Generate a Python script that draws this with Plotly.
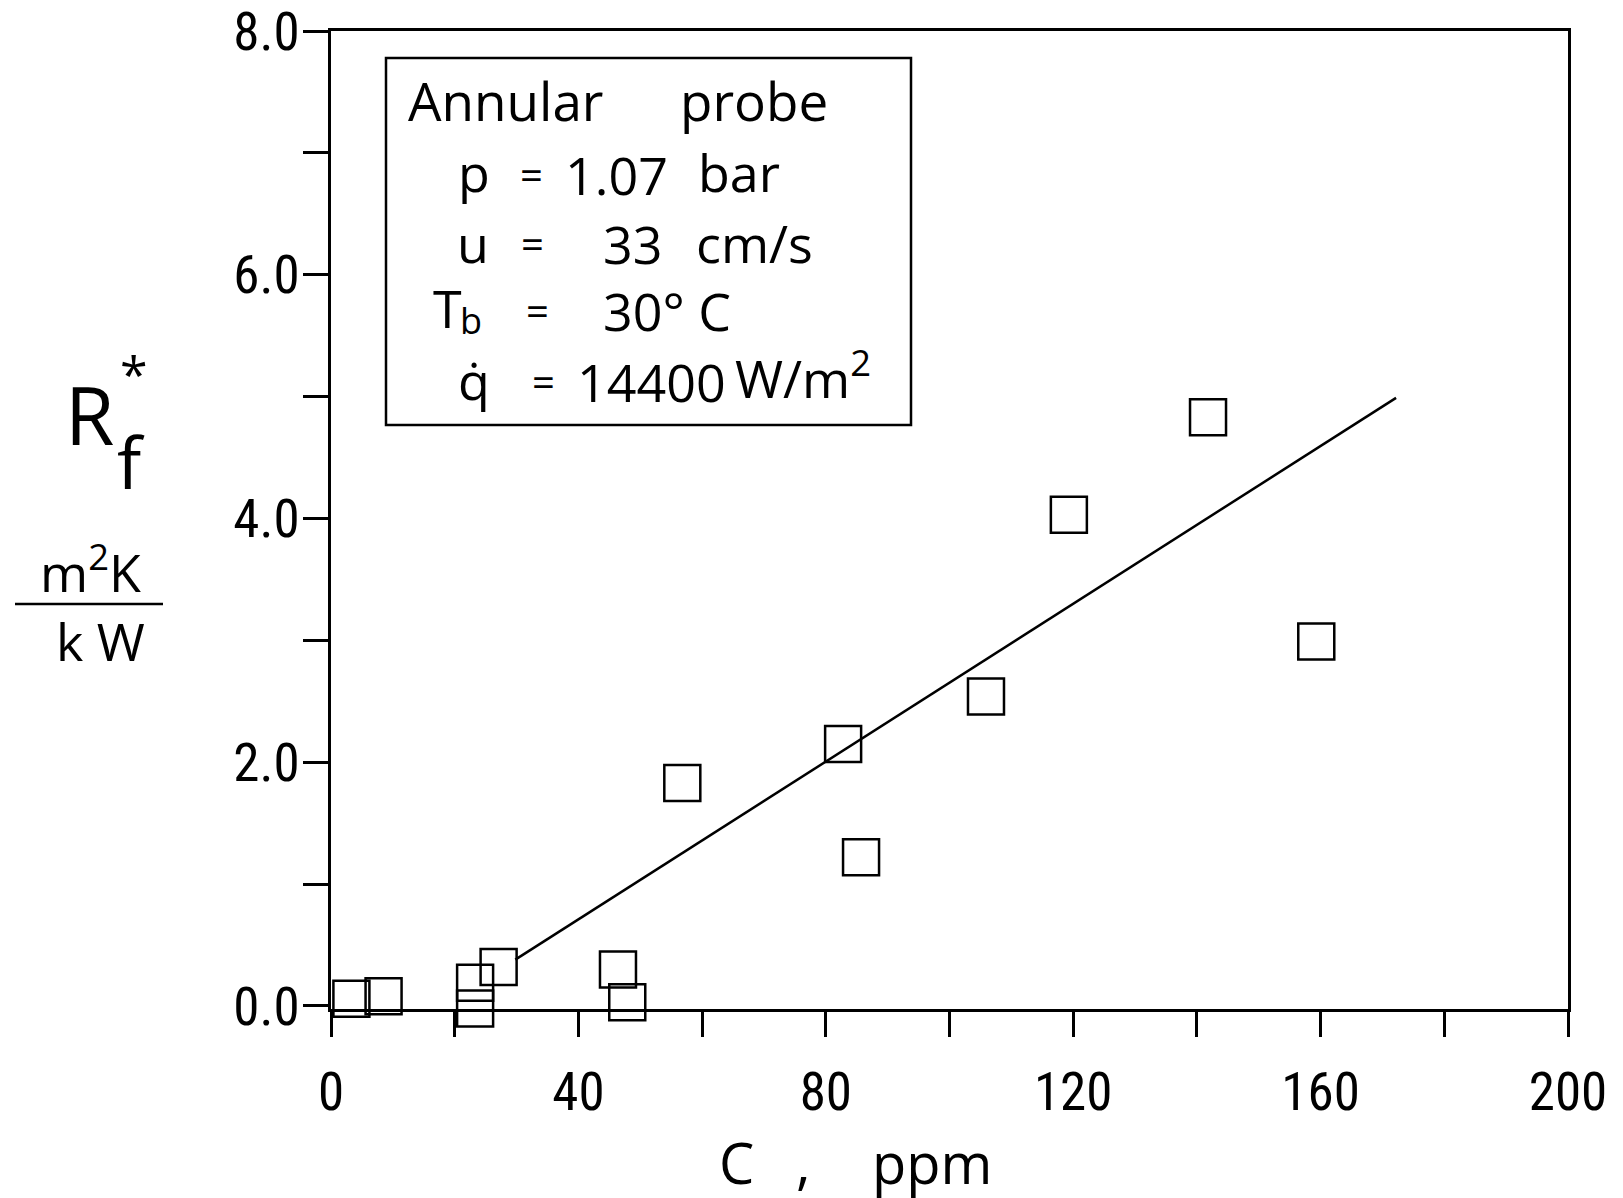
import plotly.graph_objects as go

# ---- data ----
conc_ppm = [3.3, 8.5, 23.3, 23.3, 27.1, 46.4, 47.9, 56.8, 82.8, 85.7, 105.9, 119.3, 141.8, 159.3]
rf_star = [0.06, 0.08, 0.19, -0.02, 0.32, 0.30, 0.03, 1.83, 2.15, 1.22, 2.54, 4.03, 4.83, 2.99]
fit_x = [29.8, 172.2]
fit_y = [0.38, 4.99]

x_major_vals = [0, 40, 80, 120, 160, 200]
x_major_text = ["0", "40", "80", "120", "160", "200"]
x_minor_vals = [20, 60, 100, 140, 180]
y_major_vals = [0, 2, 4, 6, 8]
y_major_text = ["0.0", "2.0", "4.0", "6.0", "8.0"]
y_minor_vals = [1, 3, 5, 7]

# ---- layout geometry (screen pixels; page body has an 8px margin) ----
SCREEN_W, SCREEN_H = 1623, 1198
OFF = 8
W, H = SCREEN_W - OFF, SCREEN_H - OFF
L, R, T, B = 331, 1568, 31, 1009


def px(x):
    return (x - L) / (R - L)


def py(y):
    return (B - y) / (B - T)


TICK_FONT = "Liberation Sans Narrow, Roboto Condensed, Arial Narrow, Liberation Sans, sans-serif"
TEXT_FONT = "Open Sans, Liberation Sans, sans-serif"

fig = go.Figure()

fig.add_trace(go.Scatter(
    x=fit_x, y=fit_y, mode="lines",
    line=dict(color="black", width=2.5),
    hoverinfo="skip", showlegend=False,
))
fig.add_trace(go.Scatter(
    x=conc_ppm, y=rf_star, mode="markers",
    marker=dict(symbol="square-open", size=36, color="black",
                line=dict(color="black", width=2.5)),
    cliponaxis=False, showlegend=False,
))

tick_style = dict(ticks="outside", ticklen=25, tickwidth=2.5, tickcolor="black")

axis_common = dict(
    showgrid=False, zeroline=False, showline=True, linecolor="black", linewidth=2.5,
    mirror=True, automargin=False, ticklabeloverflow="allow",
    tickfont=dict(family=TICK_FONT, size=53, color="black"),
    **tick_style,
)

fig.update_xaxes(range=[0, 200], tickmode="array", tickvals=x_major_vals,
                 ticktext=x_major_text, ticklabelstandoff=10,
                 minor=dict(tickmode="array", tickvals=x_minor_vals, showgrid=False, **tick_style),
                 **axis_common)
fig.update_yaxes(range=[-0.025, 8], tickmode="array", tickvals=y_major_vals,
                 ticktext=y_major_text, ticklabelstandoff=-7,
                 minor=dict(tickmode="array", tickvals=y_minor_vals, showgrid=False, **tick_style),
                 **axis_common)

annotations = []


def txt(s, x, y, size, xanchor="center", yanchor="middle", family=TEXT_FONT):
    annotations.append(dict(
        text=s, x=px(x), y=py(y), xref="paper", yref="paper",
        xanchor=xanchor, yanchor=yanchor, showarrow=False,
        font=dict(family=family, size=size, color="black"),
    ))


# x-axis title
txt("C", 736, 1162, 56)
txt(",", 803, 1162, 56)
txt("ppm", 932, 1162, 56)

# y-axis title pieces
txt("R", 89, 413, 80)
txt("*", 134, 374, 50)
txt("f", 131, 461, 72)
txt("m<sup>2</sup>K", 90, 569, 52)
txt("k W", 101, 640, 52)

# info box text
BS = 52
txt("Annular", 406, 101, 53, xanchor="left")
txt("probe", 678, 101, 53, xanchor="left")
txt("p", 456, 172, BS, xanchor="left")
txt("=", 531, 174, 40)
txt("1.07", 563, 174, BS, xanchor="left")
txt("bar", 696, 172, BS, xanchor="left")
txt("u", 455, 242, BS, xanchor="left")
txt("=", 532, 243, 40)
txt("33", 601, 243, BS, xanchor="left")
txt("cm/s", 694, 242, BS, xanchor="left")
txt("T", 431, 307, BS, xanchor="left")
txt("b", 458, 320, 36, xanchor="left")
txt("=", 537, 310, 40)
txt("30° C", 601, 310, BS, xanchor="left")
txt("q\u0307", 456, 379, BS, xanchor="left")
txt("=", 543, 381, 40)
txt("14400", 575, 381, BS, xanchor="left")
txt("W/m<sup>2</sup>", 733, 375, BS, xanchor="left")

shapes = [
    dict(type="rect", xref="paper", yref="paper",
         x0=px(386), x1=px(911), y0=py(425), y1=py(58),
         line=dict(color="black", width=2.5), fillcolor="rgba(0,0,0,0)"),
    dict(type="line", xref="paper", yref="paper",
         x0=px(15), x1=px(163), y0=py(604), y1=py(604),
         line=dict(color="black", width=2.5)),
]

fig.update_layout(
    width=W, height=H,
    margin=dict(l=L - OFF, r=SCREEN_W - R, t=T - OFF, b=SCREEN_H - B, pad=0),
    paper_bgcolor="white", plot_bgcolor="white",
    showlegend=False,
    annotations=annotations, shapes=shapes,
)

fig.write_html("out.html")
